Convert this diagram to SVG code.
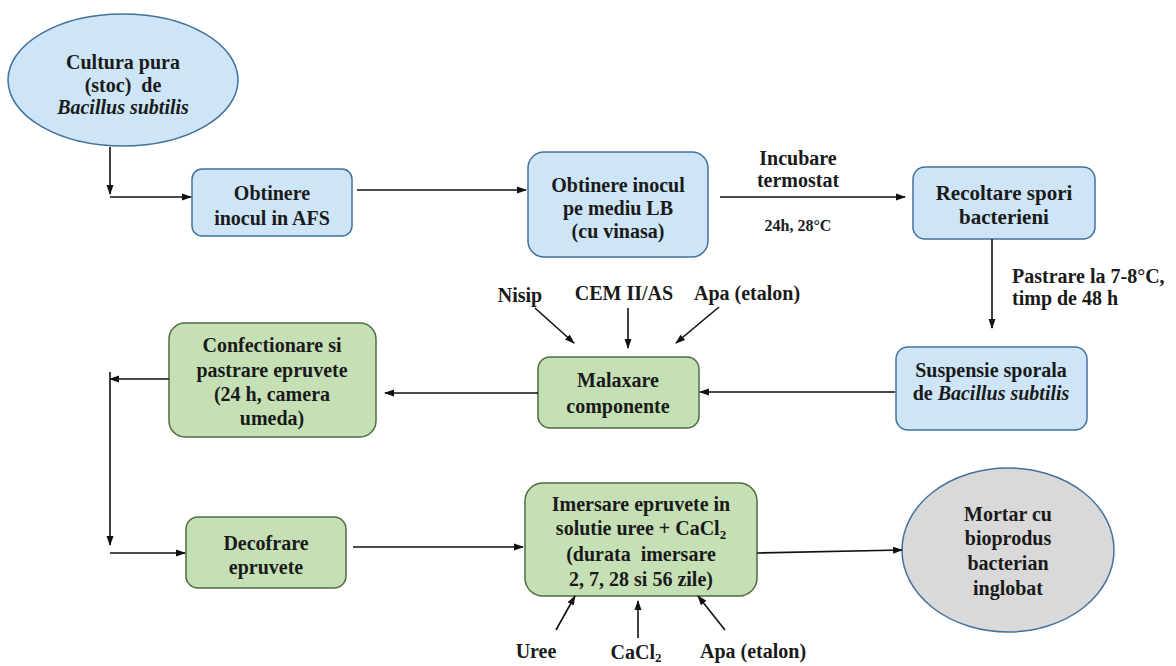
<svg xmlns="http://www.w3.org/2000/svg" width="1176" height="666" viewBox="0 0 1176 666">
<style>
.t{font-family:'Liberation Serif','DejaVu Serif',serif;font-weight:700;font-size:20px;fill:#1a1a1a;text-anchor:middle;white-space:pre}
.s{font-size:16px}
.i{font-style:italic}
.blue{fill:#cde5f6;stroke:#41719c;stroke-width:1.5}
.green{fill:#c6e0b5;stroke:#4f6b3f;stroke-width:1.5}
.gray{fill:#d9d9d9;stroke:#41719c;stroke-width:1.5}
.c{fill:none;stroke:#111;stroke-width:1.6}
</style>
<defs>
<marker id="a" markerUnits="userSpaceOnUse" markerWidth="10" markerHeight="8" refX="9" refY="4" orient="auto">
<path d="M0,0.5 L10,4 L0,7.5 z" fill="#111"/>
</marker>
</defs>
<rect width="1176" height="666" fill="#fff"/>
<g id="cultura">
<ellipse class="blue" cx="123" cy="80" rx="115" ry="66"/>
<text class="t" x="123" y="69">Cultura pura</text>
<text class="t" x="123" y="92">(stoc)  de</text>
<text class="t i" x="123" y="114">Bacillus subtilis</text>
</g>
<g id="afs">
<rect class="blue" x="192" y="169" width="160" height="67" rx="10"/>
<text class="t" x="272" y="200">Obtinere</text>
<text class="t" x="272" y="225">inocul in AFS</text>
</g>
<g id="lb">
<rect class="blue" x="528" y="152" width="180" height="105" rx="16"/>
<text class="t" x="618" y="192">Obtinere inocul</text>
<text class="t" x="618" y="215">pe mediu LB</text>
<text class="t" x="618" y="238">(cu vinasa)</text>
</g>
<g id="recoltare">
<rect class="blue" x="913" y="167" width="182" height="72" rx="12"/>
<text class="t" x="1004" y="200" style="font-size:21px">Recoltare spori</text>
<text class="t" x="1004" y="224" style="font-size:21px">bacterieni</text>
</g>
<g id="suspensie">
<rect class="blue" x="896" y="347" width="191" height="83" rx="12"/>
<text class="t" x="991" y="377">Suspensie sporala</text>
<text class="t" x="991" y="400">de <tspan class="i">Bacillus subtilis</tspan></text>
</g>
<g id="malaxare">
<rect class="green" x="538" y="357" width="161" height="71" rx="12"/>
<text class="t" x="618" y="387">Malaxare</text>
<text class="t" x="618" y="413">componente</text>
</g>
<g id="confectionare">
<rect class="green" x="169" y="323" width="207" height="114" rx="16"/>
<text class="t" x="272" y="352">Confectionare si</text>
<text class="t" x="272" y="377">pastrare epruvete</text>
<text class="t" x="272" y="401">(24 h, camera</text>
<text class="t" x="272" y="425">umeda)</text>
</g>
<g id="decofrare">
<rect class="green" x="186" y="517" width="160" height="71" rx="12"/>
<text class="t" x="266" y="550">Decofrare</text>
<text class="t" x="266" y="574">epruvete</text>
</g>
<g id="imersare">
<rect class="green" x="525" y="483" width="232" height="113" rx="18"/>
<text class="t" x="641" y="511">Imersare epruvete in</text>
<text class="t" x="641" y="535">solutie uree + CaCl<tspan font-size="13" dy="4">2</tspan></text>
<text class="t" x="641" y="561">(durata  imersare</text>
<text class="t" x="641" y="586">2, 7, 28 si 56 zile)</text>
</g>
<g id="mortar">
<ellipse class="gray" cx="1008" cy="550" rx="106" ry="82"/>
<text class="t" x="1008" y="521">Mortar cu</text>
<text class="t" x="1008" y="545">bioprodus</text>
<text class="t" x="1008" y="570">bacterian</text>
<text class="t" x="1008" y="595">inglobat</text>
</g>
<g id="labels">
<text class="t" x="798" y="165">Incubare</text>
<text class="t" x="798" y="187">termostat</text>
<text class="t s" x="798" y="231">24h, 28°C</text>
<text class="t" x="1012" y="283" style="text-anchor:start">Pastrare la 7-8°C,</text>
<text class="t" x="1012" y="305" style="text-anchor:start">timp de 48 h</text>
<text class="t" x="520" y="302">Nisip</text>
<text class="t" x="624" y="300">CEM II/AS</text>
<text class="t" x="747" y="300">Apa (etalon)</text>
<text class="t" x="536" y="658">Uree</text>
<text class="t" x="636" y="659">CaCl<tspan font-size="13" dy="3">2</tspan></text>
<text class="t" x="753" y="658">Apa (etalon)</text>
</g>
<g id="connectors">
<path class="c" d="M110,147 V194" marker-end="url(#a)"/>
<path class="c" d="M110,197 H191" stroke-width="3" marker-end="url(#a)"/>
<path class="c" d="M357,190 H526" marker-end="url(#a)"/>
<path class="c" d="M720,197 H905" marker-end="url(#a)"/>
<path class="c" d="M992,239 V328" marker-end="url(#a)"/>
<path class="c" d="M895,392 H700" marker-end="url(#a)"/>
<path class="c" d="M535,308 L574,343" marker-end="url(#a)"/>
<path class="c" d="M628,308 V348" marker-end="url(#a)"/>
<path class="c" d="M719,307 L676,343" marker-end="url(#a)"/>
<path class="c" d="M538,393 H385" marker-end="url(#a)"/>
<path class="c" d="M169,379 H110" marker-end="url(#a)"/>
<path class="c" d="M110,372 V545" marker-end="url(#a)"/>
<path class="c" d="M110,553 H185" marker-end="url(#a)"/>
<path class="c" d="M353,547 H523" marker-end="url(#a)"/>
<path class="c" d="M757,553 L902,550" marker-end="url(#a)"/>
<path class="c" d="M556,630 L575,596" marker-end="url(#a)"/>
<path class="c" d="M638,638 V601" marker-end="url(#a)"/>
<path class="c" d="M725,630 L698,596" marker-end="url(#a)"/>
</g>
</svg>
